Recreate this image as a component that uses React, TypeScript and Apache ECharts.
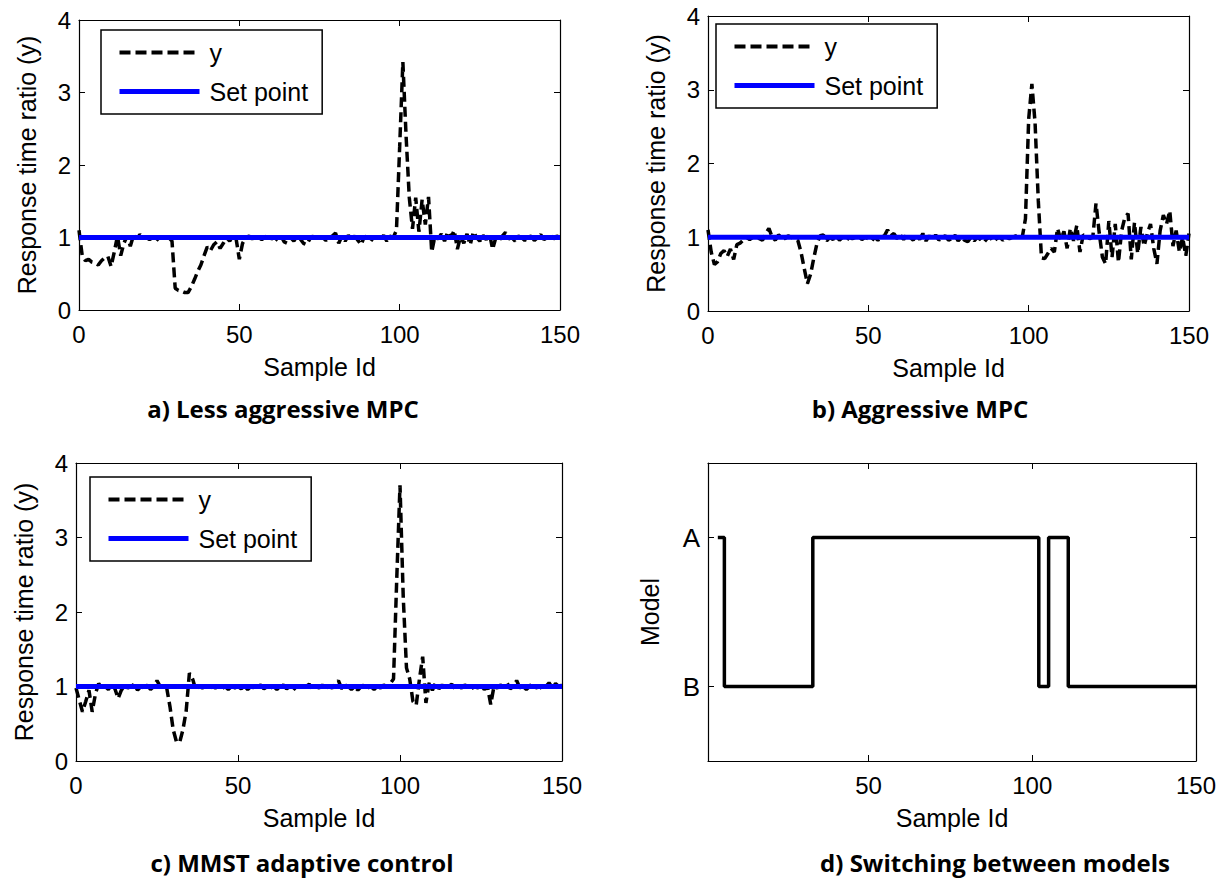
import React, { useEffect, useRef } from "react";
import * as echarts from "echarts";

// ---------- data ----------
const sampleMax = 150;
const setPoint = 1;
const responseTicks = [0, 1, 2, 3, 4];
const sampleTicks = [0, 50, 100, 150];
const modelTicks = [50, 100, 150];

// a) Less aggressive MPC  (sample 0..150)
const yLessAggressive = [
  1.10, 0.75, 0.68, 0.70, 0.66, 0.65, 0.62, 0.68, 0.72, 0.74,
  0.60, 0.80, 1.02, 0.75, 0.92, 1.02, 0.88, 1.03, 0.98, 1.04,
  1.00, 1.00, 0.97, 1.00, 0.95, 1.00, 1.00, 1.00, 1.00, 0.95,
  0.30, 0.27, 0.26, 0.24, 0.24, 0.32, 0.42, 0.53, 0.62, 0.75,
  0.87, 0.82, 0.90, 0.94, 0.85, 0.92, 1.00, 0.95, 1.03, 0.98,
  0.70, 0.92, 1.00, 1.02, 0.98, 1.02, 1.00, 0.97, 1.01, 1.03,
  0.98, 1.00, 0.96, 1.02, 0.94, 0.92, 1.00, 0.95, 1.02, 0.98,
  0.92, 0.90, 0.98, 1.02, 0.97, 1.01, 1.00, 0.96, 1.00, 1.02,
  1.06, 0.92, 1.02, 0.95, 1.03, 0.98, 1.02, 0.96, 0.90, 1.02,
  0.98, 0.95, 1.01, 1.00, 0.97, 1.03, 0.95, 1.02, 1.00, 1.10,
  2.25, 3.42, 2.40, 1.55, 1.12, 1.55, 1.08, 1.52, 1.18, 1.56,
  0.80, 1.02, 0.98, 1.05, 0.95, 1.08, 1.00, 1.10, 0.84, 1.02,
  0.92, 1.05, 0.90, 1.08, 1.00, 0.95, 1.03, 0.97, 1.05, 0.84,
  1.00, 0.96, 1.02, 1.07, 0.98, 1.00, 0.95, 1.02, 1.00, 0.96,
  1.00, 1.02, 0.96, 1.00, 1.04, 0.97, 1.00, 1.03, 0.98, 1.02,
  1.00,
];

// b) Aggressive MPC
const yAggressive = [
  1.10, 0.80, 0.63, 0.67, 0.78, 0.82, 0.74, 0.84, 0.70, 0.90,
  0.92, 0.96, 1.00, 0.97, 1.00, 1.02, 0.98, 0.96, 1.05, 1.12,
  1.00, 0.96, 1.03, 1.00, 0.98, 1.02, 1.00, 0.97, 0.96, 0.80,
  0.58, 0.37, 0.50, 0.72, 0.92, 1.02, 1.03, 0.95, 1.00, 0.97,
  1.02, 0.96, 1.00, 0.95, 1.00, 0.98, 1.00, 1.01, 0.97, 1.00,
  0.98, 0.95, 1.00, 0.96, 1.00, 1.02, 1.10, 1.02, 1.05, 0.98,
  1.03, 0.97, 1.04, 1.00, 0.96, 1.03, 0.97, 1.05, 0.95, 1.02,
  0.97, 1.03, 0.96, 1.00, 1.02, 0.96, 0.98, 1.03, 0.95, 1.00,
  0.96, 0.94, 1.00, 0.95, 1.00, 0.97, 0.93, 0.98, 1.00, 0.94,
  0.98, 1.00, 0.96, 1.00, 0.98, 1.00, 1.02, 1.00, 1.00, 1.25,
  2.60, 3.08, 2.55, 1.50, 0.72, 0.71, 0.78, 0.85, 0.80, 1.12,
  0.97, 1.08, 0.85, 1.12, 0.95, 1.16, 0.80, 1.03, 1.02, 0.98,
  1.00, 1.46, 1.06, 0.73, 0.64, 1.22, 0.73, 1.18, 0.66, 1.09,
  1.27, 1.32, 0.70, 1.20, 0.78, 1.14, 0.88, 1.05, 1.18, 0.85,
  0.64, 1.09, 1.30, 1.18, 1.36, 0.88, 1.09, 0.80, 1.00, 0.75,
  1.05,
];

// c) MMST adaptive control
const yMMST = [
  0.98, 0.82, 0.66, 0.80, 0.95, 0.66, 0.90, 1.04, 0.98, 1.00,
  0.96, 1.03, 0.97, 0.84, 0.95, 1.02, 0.98, 1.00, 1.03, 0.95,
  1.00, 0.98, 1.02, 0.96, 1.00, 1.08, 1.00, 0.97, 0.98, 0.73,
  0.42, 0.26, 0.25, 0.42, 0.67, 1.18, 1.10, 0.95, 1.00, 0.98,
  1.00, 0.97, 1.00, 0.98, 1.01, 0.97, 1.00, 0.96, 1.00, 0.98,
  1.00, 0.97, 1.01, 0.96, 1.00, 0.98, 1.00, 1.02, 0.97, 1.00,
  0.98, 1.00, 0.96, 1.00, 1.02, 0.97, 1.00, 0.95, 1.00, 1.01,
  0.97, 1.00, 1.03, 0.96, 1.00, 0.98, 1.02, 0.97, 1.00, 0.98,
  1.03, 1.08, 0.97, 1.02, 1.00, 0.96, 1.00, 0.95, 1.00, 1.02,
  0.98, 1.00, 0.96, 1.00, 0.98, 1.02, 1.00, 1.04, 1.10, 2.45,
  3.70, 2.20, 1.25, 1.10, 0.80, 0.75, 1.10, 1.40, 0.78, 1.05,
  0.95, 1.05, 0.97, 1.02, 0.98, 1.00, 1.03, 0.97, 1.00, 0.98,
  1.02, 1.00, 0.97, 1.00, 0.98, 1.02, 0.96, 1.00, 0.76, 1.00,
  0.98, 1.02, 1.00, 1.05, 0.97, 1.00, 1.08, 0.98, 1.00, 0.96,
  1.00, 1.05, 0.98, 1.00, 0.97, 1.00, 1.05, 0.98, 1.04, 1.00,
  1.02,
];

// d) Switching between models
const modelSwitchSamples = [4, 6, 33, 102, 105, 111, 150];
const modelSwitchValues = ["A", "B", "A", "B", "A", "B", "B"];
const modelLevels: Record<string, number> = { A: 1, B: 0 };

const panelTitles = [
  "a) Less aggressive MPC",
  "b) Aggressive MPC",
  "c) MMST adaptive control",
  "d) Switching between models",
];

// ---------- styling ----------
const FONT = "'Liberation Sans', Arial, Helvetica, sans-serif";
const TITLE_FONT = "'Open Sans', 'Noto Sans', sans-serif";

const grids = [
  { left: 79, top: 20, width: 481, height: 290 },
  { left: 708, top: 16, width: 481, height: 295 },
  { left: 76, top: 463, width: 486, height: 298 },
  { left: 708, top: 463, width: 488, height: 298 },
];
const legendPos = [
  { left: 101, top: 30 },
  { left: 716, top: 24 },
  { left: 90, top: 477 },
];
const titlePos = [
  { x: 283, y: 408 },
  { x: 920, y: 408 },
  { x: 302, y: 862 },
  { x: 995, y: 862 },
];

const Y_DASH = { color: "#000", width: 3.5, type: [10, 5] as number[] };
const SP_LINE = { color: "#0000ff", width: 5 };

const tickStyle = { inside: true, length: 6, lineStyle: { color: "#000", width: 1 } };
const lineStyleAxis = { lineStyle: { color: "#000", width: 1.2 } };
const labelStyle = { color: "#000", fontSize: 24, fontFamily: FONT };
const nameStyle = { color: "#000", fontSize: 25, fontFamily: FONT };

function App() {
  const ref = useRef<HTMLDivElement>(null);

  useEffect(() => {
    if (!ref.current) return;
    const chart = echarts.init(ref.current, undefined, { renderer: "svg" });

    const xAxes: any[] = [];
    const yAxes: any[] = [];
    const series: any[] = [];

    grids.forEach((g, gi) => {
      const isModel = gi === 3;
      const xBase: any = {
        type: "value",
        gridIndex: gi,
        min: isModel ? 1 : 0,
        max: sampleMax,
        splitLine: { show: false },
        axisLine: { show: true, onZero: false, ...lineStyleAxis },
      };
      if (isModel) {
        xBase.axisTick = { ...tickStyle, customValues: modelTicks };
        xBase.axisLabel = { ...labelStyle, margin: 12, customValues: modelTicks };
      } else {
        xBase.interval = 50;
        xBase.axisTick = tickStyle;
        xBase.axisLabel = { ...labelStyle, margin: 12, customValues: sampleTicks };
      }
      xAxes.push({
        ...xBase,
        position: "bottom",
        name: "Sample Id",
        nameLocation: "middle",
        nameGap: 44,
        nameTextStyle: nameStyle,
      });
      xAxes.push({ ...xBase, position: "top", axisLabel: { show: false } });

      const yBase: any = {
        type: "value",
        gridIndex: gi,
        splitLine: { show: false },
        axisLine: { show: true, onZero: false, ...lineStyleAxis },
      };
      if (isModel) {
        yBase.min = -0.5;
        yBase.max = 1.5;
        yBase.axisTick = { ...tickStyle, customValues: [0, 1] };
        yBase.axisLabel = {
          ...labelStyle,
          fontSize: 26,
          margin: 8,
          customValues: [0, 1],
          formatter: (v: number) => (v === modelLevels.A ? "A" : "B"),
        };
      } else {
        yBase.min = 0;
        yBase.max = 4;
        yBase.interval = 1;
        yBase.axisTick = tickStyle;
        yBase.axisLabel = { ...labelStyle, margin: 8, customValues: responseTicks };
      }
      yAxes.push({
        ...yBase,
        position: "left",
        name: isModel ? "Model" : "Response time ratio (y)",
        nameLocation: "middle",
        nameGap: isModel ? 46 : 40,
        nameTextStyle: nameStyle,
      });
      yAxes.push({ ...yBase, position: "right", axisLabel: { show: false } });
    });

    const responses = [yLessAggressive, yAggressive, yMMST];
    responses.forEach((arr, gi) => {
      series.push({
        type: "line",
        name: "y",
        xAxisIndex: gi * 2,
        yAxisIndex: gi * 2,
        data: arr.map((v, i) => [i, v]),
        symbol: "none",
        lineStyle: Y_DASH,
        itemStyle: { color: "#000" },
        z: 2,
      });
      series.push({
        type: "line",
        name: "Set point",
        xAxisIndex: gi * 2,
        yAxisIndex: gi * 2,
        data: [
          [0, setPoint],
          [sampleMax, setPoint],
        ],
        symbol: "none",
        lineStyle: SP_LINE,
        itemStyle: { color: "#0000ff" },
        z: 3,
      });
    });

    series.push({
      type: "line",
      name: "Model",
      xAxisIndex: 6,
      yAxisIndex: 6,
      step: "end",
      data: modelSwitchSamples.map((s, i) => [s, modelLevels[modelSwitchValues[i]]]),
      symbol: "none",
      lineStyle: { color: "#000", width: 3.5 },
      itemStyle: { color: "#000" },
    });

    const legends = legendPos.map((p) => ({
      show: true,
      data: [
        { name: "y", itemStyle: { opacity: 0 }, lineStyle: { ...Y_DASH, width: 4, type: [11, 5] } },
        { name: "Set point", itemStyle: { opacity: 0 }, lineStyle: { ...SP_LINE } },
      ],
      orient: "vertical",
      left: p.left,
      top: p.top,
      itemWidth: 80,
      itemHeight: 20,
      itemGap: 14,
      padding: [10, 14, 10, 16],
      borderColor: "#000",
      borderWidth: 1.5,
      backgroundColor: "#fff",
      selectedMode: false,
      textStyle: { color: "#000", fontSize: 25, fontFamily: FONT, padding: [0, 0, 0, 5] },
    }));

    chart.setOption({
      animation: false,
      backgroundColor: "#fff",
      grid: grids.map((g) => ({ ...g, containLabel: false })),
      xAxis: xAxes,
      yAxis: yAxes,
      legend: legends,
      series,
      graphic: panelTitles.map((t, i) => ({
        type: "text",
        x: titlePos[i].x,
        y: titlePos[i].y,
        style: {
          text: t,
          fontSize: 24,
          fontWeight: "bold",
          fontFamily: TITLE_FONT,
          fill: "#000",
          textAlign: "center",
          textVerticalAlign: "middle",
        },
      })),
    });

    return () => chart.dispose();
  }, []);

  return (
    <div
      ref={ref}
      style={{ position: "absolute", left: 0, top: 0, width: 1224, height: 879, background: "#fff" }}
    />
  );
}

export default App;
